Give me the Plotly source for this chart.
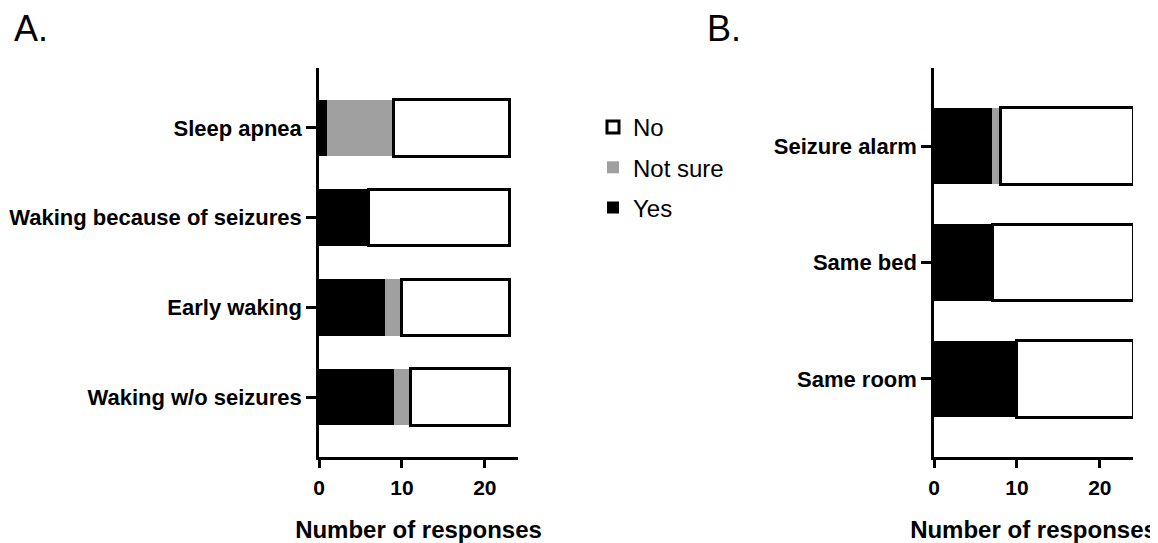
import plotly.graph_objects as go

# Panel A data
cats_a = ["Sleep apnea", "Waking because of seizures", "Early waking", "Waking w/o seizures"]
yes_a = [1, 6, 8, 9]
notsure_a = [8, 0, 2, 2]
no_a = [14, 17, 13, 12]

# Panel B data
cats_b = ["Seizure alarm", "Same bed", "Same room"]
yes_b = [7, 7, 10]
notsure_b = [1, 0, 0]
no_b = [16, 17, 14]

x_ticks = [0, 10, 20]
x_title = "Number of responses"

# the page body has an 8px default margin; compensate so window pixels match
OFF = 8
W, H = 1158 - OFF, 543 - OFF
BLACK = "#000000"
GRAY = "#a0a0a0"
FONT = "Liberation Sans, Arial, sans-serif"

fig = go.Figure()

def add_panel(cats, yes, ns, no, xa, ya, show, width):
    fig.add_trace(go.Bar(y=cats, x=yes, orientation="h", name="Yes", legendgroup="yes",
                         legendrank=3,
                         marker=dict(color=BLACK, line=dict(width=0)), width=width,
                         xaxis=xa, yaxis=ya, showlegend=show))
    fig.add_trace(go.Bar(y=cats, x=ns, orientation="h", name="Not sure", legendgroup="ns",
                         legendrank=2,
                         marker=dict(color=GRAY, line=dict(width=0)), width=width,
                         xaxis=xa, yaxis=ya, showlegend=show))
    fig.add_trace(go.Bar(y=cats, x=no, orientation="h", name="No", legendgroup="no",
                         legendrank=1,
                         marker=dict(color="#ffffff", line=dict(color=BLACK, width=3)), width=width,
                         xaxis=xa, yaxis=ya, showlegend=show))

add_panel(cats_a, yes_a, notsure_a, no_a, "x", "y", True, 0.63)
add_panel(cats_b, yes_b, notsure_b, no_b, "x2", "y2", False, 0.66)

def px_x(p):
    return (p - OFF) / W

def px_y(p):
    return (H - (p - OFF)) / H

tickfont = dict(family=FONT, size=21, color=BLACK, weight="bold")
catfont = dict(family=FONT, size=22, color=BLACK, weight="bold")

xcommon = dict(range=[0, 24], tickvals=x_ticks, ticks="outside", ticklen=8, tickwidth=2.5,
               tickcolor=BLACK, showline=True, linewidth=2.5, linecolor=BLACK,
               showgrid=False, zeroline=False, fixedrange=True,
               tickfont=tickfont, ticklabelstandoff=2,
               title=dict(text=x_title, font=dict(family=FONT, size=24, color=BLACK, weight="bold"),
                          standoff=29))
ycommon = dict(ticks="outside", ticklen=10, tickwidth=2.5, tickcolor=BLACK,
               showline=True, linewidth=2.5, linecolor=BLACK, showgrid=False, zeroline=False,
               tickfont=catfont, fixedrange=True)

fig.update_layout(
    width=W, height=H,
    margin=dict(l=0, r=0, t=0, b=0, autoexpand=False),
    paper_bgcolor="white", plot_bgcolor="white",
    barmode="stack", bargap=0.3,
    xaxis=dict(xcommon, domain=[px_x(319), px_x(518)], anchor="y"),
    yaxis=dict(ycommon, domain=[px_y(457), px_y(68)], anchor="x",
               categoryorder="array", categoryarray=cats_a, range=[3.667, -0.667]),
    xaxis2=dict(xcommon, domain=[px_x(934), px_x(1133)], anchor="y2"),
    yaxis2=dict(ycommon, domain=[px_y(457), px_y(68)], anchor="x2",
                categoryorder="array", categoryarray=cats_b, range=[2.67, -0.67]),
    legend=dict(x=px_x(593), y=px_y(105), xanchor="left", yanchor="top",
                traceorder="grouped", tracegroupgap=6,
                font=dict(family=FONT, size=24, color=BLACK),
                bgcolor="rgba(0,0,0,0)"),
    showlegend=True,
    annotations=[
        dict(text="A.", x=px_x(12), y=px_y(28), xref="paper", yref="paper",
             xanchor="left", yanchor="middle", showarrow=False,
             font=dict(family=FONT, size=36, color=BLACK)),
        dict(text="B.", x=px_x(705), y=px_y(28), xref="paper", yref="paper",
             xanchor="left", yanchor="middle", showarrow=False,
             font=dict(family=FONT, size=36, color=BLACK)),
    ],
)

fig.write_html("out.html")
